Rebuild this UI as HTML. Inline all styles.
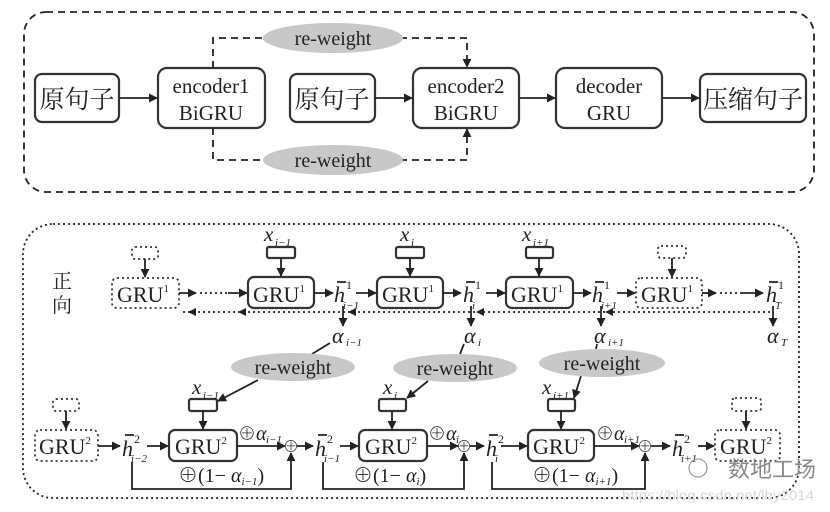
<!DOCTYPE html>
<html><head><meta charset="utf-8"><style>
body{margin:0;background:#fff}
svg{display:block}
text{font-family:"Liberation Serif","Noto Serif CJK SC",serif;fill:#222}
.b{fill:#fff;stroke:#333;stroke-width:2.2}
.d{fill:#fff;stroke:#333;stroke-width:1.8;stroke-dasharray:2 3}
.l{stroke:#222;stroke-width:1.8;fill:none}
.dl{stroke:#222;stroke-width:1.8;fill:none;stroke-dasharray:2 3}
.dash{stroke:#222;stroke-width:1.8;fill:none;stroke-dasharray:7 5}
.s{font-size:11px;font-style:italic}
text.wm{font-family:"Liberation Sans",sans-serif;fill:#d8d8d8}
text.cn{font-family:"Noto Sans CJK SC",sans-serif;fill:#888}
</style></head><body>
<svg width="830" height="512" viewBox="0 0 830 512" xmlns="http://www.w3.org/2000/svg">
<defs><marker id="a" viewBox="0 0 10 10" refX="9" refY="5" markerWidth="5" markerHeight="5" orient="auto"><path d="M0,0L10,5L0,10z" fill="#222"/></marker></defs>
<rect x="24" y="12" width="790" height="180" rx="22" class="dash"/>
<rect x="35" y="74" width="84" height="48" rx="7" class="b"/>
<text x="77" y="108" font-size="25" text-anchor="middle">原句子</text>
<rect x="158" y="68" width="107" height="60" rx="9" class="b"/>
<text x="211" y="93" font-size="21" text-anchor="middle">encoder1</text>
<text x="211" y="120" font-size="21" text-anchor="middle">BiGRU</text>
<rect x="290" y="74" width="85" height="48" rx="7" class="b"/>
<text x="332" y="108" font-size="25" text-anchor="middle">原句子</text>
<rect x="413" y="68" width="106" height="60" rx="9" class="b"/>
<text x="466" y="93" font-size="21" text-anchor="middle">encoder2</text>
<text x="466" y="120" font-size="21" text-anchor="middle">BiGRU</text>
<rect x="556" y="68" width="106" height="60" rx="9" class="b"/>
<text x="609" y="93" font-size="21" text-anchor="middle">decoder</text>
<text x="609" y="120" font-size="21" text-anchor="middle">GRU</text>
<rect x="700" y="74" width="106" height="48" rx="7" class="b"/>
<text x="753" y="108" font-size="25" text-anchor="middle">压缩句子</text>
<line x1="119" y1="98" x2="157" y2="98" class="l" marker-end="url(#a)"/>
<line x1="375" y1="98" x2="412" y2="98" class="l" marker-end="url(#a)"/>
<line x1="519" y1="98" x2="555" y2="98" class="l" marker-end="url(#a)"/>
<line x1="662" y1="98" x2="699" y2="98" class="l" marker-end="url(#a)"/>
<path d="M213,68V38H265M400,38H467V67" class="dash" marker-end="url(#a)"/>
<path d="M213,128V160H265M400,160H467V129" class="dash" marker-end="url(#a)"/>
<ellipse cx="333" cy="38" rx="70" ry="15" fill="#c8c8c8"/>
<text x="333" y="45" font-size="20" text-anchor="middle">re-weight</text>
<ellipse cx="333" cy="160" rx="70" ry="15" fill="#c8c8c8"/>
<text x="333" y="167" font-size="20" text-anchor="middle">re-weight</text>
<rect x="23" y="224" width="776" height="274" rx="30" class="dl"/>
<text x="52" y="288" font-size="20">正</text>
<text x="52" y="312" font-size="20">向</text>
<g font-size="22">
<rect x="132" y="247" width="26" height="12" rx="3" class="d"/>
<line x1="145" y1="259" x2="145" y2="277" class="l" marker-end="url(#a)"/>
<rect x="112" y="278" width="67" height="30" rx="5" class="d"/>
<text x="117" y="302">GRU<tspan font-size="11" dy="-10">1</tspan></text>
<path d="M179,293H196" class="l" marker-end="url(#a)"/>
<path d="M200,293H228" class="dl"/>
<path d="M228,293H247" class="l" marker-end="url(#a)"/>
<rect x="248" y="277" width="66" height="31" rx="6" class="b"/>
<text x="253" y="302">GRU<tspan font-size="11" dy="-10">1</tspan></text>
<rect x="377" y="277" width="66" height="31" rx="6" class="b"/>
<text x="382" y="302">GRU<tspan font-size="11" dy="-10">1</tspan></text>
<rect x="506" y="277" width="67" height="31" rx="6" class="b"/>
<text x="511" y="302">GRU<tspan font-size="11" dy="-10">1</tspan></text>
<rect x="636" y="278" width="66" height="30" rx="5" class="d"/>
<text x="641" y="302">GRU<tspan font-size="11" dy="-10">1</tspan></text>
<rect x="658" y="246" width="28" height="12" rx="3" class="d"/>
<line x1="672" y1="258" x2="672" y2="277" class="l" marker-end="url(#a)"/>
<rect x="267" y="247" width="28" height="11" rx="2" class="b" stroke-width="1.8"/>
<line x1="281" y1="258" x2="281" y2="276" class="l" marker-end="url(#a)"/>
<text x="264" y="241" font-style="italic" font-size="21">x</text><text x="275" y="246" class="s">i−1</text>
<rect x="396" y="247" width="28" height="11" rx="2" class="b" stroke-width="1.8"/>
<line x1="410" y1="258" x2="410" y2="276" class="l" marker-end="url(#a)"/>
<text x="400" y="241" font-style="italic" font-size="21">x</text><text x="411" y="246" class="s">i</text>
<rect x="526" y="247" width="27" height="11" rx="2" class="b" stroke-width="1.8"/>
<line x1="539" y1="258" x2="539" y2="276" class="l" marker-end="url(#a)"/>
<text x="522" y="241" font-style="italic" font-size="21">x</text><text x="533" y="246" class="s">i+1</text>
<text x="334" y="302" font-style="italic">h</text><text x="346" y="289" font-size="12">1</text><text x="343" y="309" class="s">i−1</text>
<text x="463" y="302" font-style="italic">h</text><text x="475" y="289" font-size="12">1</text><text x="472" y="309" class="s">i</text>
<text x="592" y="302" font-style="italic">h</text><text x="604" y="289" font-size="12">1</text><text x="601" y="309" class="s">i+1</text>
<text x="766" y="302" font-style="italic">h</text><text x="778" y="289" font-size="12">1</text><text x="775" y="309" class="s">T</text>
<g class="l" stroke-width="1.2"><path d="M337,282h9M466,282h9M595,282h9M769,282h9"/></g>
<line x1="314" y1="293" x2="333" y2="293" class="l" marker-end="url(#a)"/>
<line x1="356" y1="293" x2="376" y2="293" class="l" marker-end="url(#a)"/>
<line x1="443" y1="293" x2="461" y2="293" class="l" marker-end="url(#a)"/>
<line x1="486" y1="293" x2="505" y2="293" class="l" marker-end="url(#a)"/>
<line x1="573" y1="293" x2="591" y2="293" class="l" marker-end="url(#a)"/>
<line x1="617" y1="293" x2="635" y2="293" class="l" marker-end="url(#a)"/>
<line x1="702" y1="293" x2="716" y2="293" class="l" marker-end="url(#a)"/>
<path d="M720,293H740" class="dl"/>
<line x1="740" y1="293" x2="763" y2="293" class="l" marker-end="url(#a)"/>
<path d="M770,312H182" class="dl"/>
<path d="M188,312l8,-4v8z M238,312l8,-4v8z M348,312l8,-4v8z M476,312l8,-4v8z M605,312l8,-4v8z" fill="#222"/>
<g class="l">
<line x1="343" y1="306" x2="343" y2="326" marker-end="url(#a)"/>
<line x1="471" y1="306" x2="471" y2="326" marker-end="url(#a)"/>
<line x1="601" y1="306" x2="601" y2="326" marker-end="url(#a)"/>
<line x1="773" y1="306" x2="773" y2="326" marker-end="url(#a)"/>
</g>
<text x="332" y="343" font-style="italic">α</text><text x="346" y="346" class="s">i−1</text>
<text x="464" y="343" font-style="italic">α</text><text x="478" y="346" class="s">i</text>
<text x="594" y="343" font-style="italic">α</text><text x="608" y="346" class="s">i+1</text>
<text x="767" y="343" font-style="italic">α</text><text x="781" y="346" class="s">T</text>
<g class="l">
<line x1="330" y1="343" x2="312" y2="354"/>
<line x1="464" y1="344" x2="460" y2="354"/>
<line x1="597" y1="344" x2="596" y2="349"/>
<line x1="258" y1="380" x2="218" y2="401" marker-end="url(#a)"/>
<line x1="428" y1="381" x2="407" y2="398" marker-end="url(#a)"/>
<line x1="581" y1="376" x2="574" y2="398" marker-end="url(#a)"/>
</g>
<ellipse cx="293" cy="367" rx="62" ry="14" fill="#c8c8c8"/>
<text x="293" y="374" font-size="20" text-anchor="middle">re-weight</text>
<ellipse cx="455" cy="368" rx="62" ry="14" fill="#c8c8c8"/>
<text x="455" y="375" font-size="20" text-anchor="middle">re-weight</text>
<ellipse cx="602" cy="363" rx="63" ry="14" fill="#c8c8c8"/>
<text x="602" y="370" font-size="20" text-anchor="middle">re-weight</text>
<rect x="53" y="399" width="26" height="12" rx="3" class="d"/>
<line x1="66" y1="411" x2="66" y2="429" class="l" marker-end="url(#a)"/>
<rect x="35" y="430" width="63" height="31" rx="5" class="d"/>
<text x="39" y="454">GRU<tspan font-size="11" dy="-10">2</tspan></text>
<rect x="732" y="398" width="29" height="13" rx="3" class="d"/>
<line x1="746" y1="411" x2="746" y2="429" class="l" marker-end="url(#a)"/>
<rect x="715" y="430" width="65" height="31" rx="5" class="d"/>
<text x="720" y="454">GRU<tspan font-size="11" dy="-10">2</tspan></text>
<rect x="169" y="430" width="68" height="31" rx="6" class="b"/>
<text x="175" y="454">GRU<tspan font-size="11" dy="-10">2</tspan></text>
<rect x="359" y="430" width="68" height="31" rx="6" class="b"/>
<text x="365" y="454">GRU<tspan font-size="11" dy="-10">2</tspan></text>
<rect x="528" y="430" width="66" height="31" rx="6" class="b"/>
<text x="533" y="454">GRU<tspan font-size="11" dy="-10">2</tspan></text>
<rect x="189" y="399" width="28" height="12" rx="2" class="b" stroke-width="1.8"/>
<line x1="203" y1="411" x2="203" y2="429" class="l" marker-end="url(#a)"/>
<text x="192" y="394" font-style="italic" font-size="21">x</text><text x="203" y="399" class="s">i−1</text>
<rect x="379" y="399" width="27" height="12" rx="2" class="b" stroke-width="1.8"/>
<line x1="392" y1="411" x2="392" y2="429" class="l" marker-end="url(#a)"/>
<text x="383" y="394" font-style="italic" font-size="21">x</text><text x="394" y="399" class="s">i</text>
<rect x="548" y="399" width="27" height="12" rx="2" class="b" stroke-width="1.8"/>
<line x1="561" y1="411" x2="561" y2="429" class="l" marker-end="url(#a)"/>
<text x="542" y="394" font-style="italic" font-size="21">x</text><text x="553" y="399" class="s">i+1</text>
<text x="122" y="456" font-style="italic">h</text><text x="134" y="443" font-size="12">2</text><text x="131" y="462" class="s">i−2</text>
<text x="315" y="456" font-style="italic">h</text><text x="327" y="443" font-size="12">2</text><text x="324" y="462" class="s">i−1</text>
<text x="486" y="456" font-style="italic">h</text><text x="498" y="443" font-size="12">2</text><text x="495" y="462" class="s">i</text>
<text x="672" y="456" font-style="italic">h</text><text x="684" y="443" font-size="12">2</text><text x="681" y="462" class="s">i+1</text>
<g class="l" stroke-width="1.2"><path d="M125,435h9M318,435h9M489,435h9M675,435h9"/></g>
<g class="l">
<line x1="98" y1="446" x2="120" y2="446" marker-end="url(#a)"/>
<line x1="147" y1="446" x2="168" y2="446" marker-end="url(#a)"/>
<line x1="237" y1="446" x2="285" y2="446" marker-end="url(#a)"/>
<line x1="297" y1="446" x2="313" y2="446" marker-end="url(#a)"/>
<line x1="340" y1="446" x2="358" y2="446" marker-end="url(#a)"/>
<line x1="427" y1="446" x2="458" y2="446" marker-end="url(#a)"/>
<line x1="470" y1="446" x2="484" y2="446" marker-end="url(#a)"/>
<line x1="501" y1="446" x2="527" y2="446" marker-end="url(#a)"/>
<line x1="594" y1="446" x2="639" y2="446" marker-end="url(#a)"/>
<line x1="651" y1="446" x2="670" y2="446" marker-end="url(#a)"/>
<line x1="698" y1="446" x2="714" y2="446" marker-end="url(#a)"/>
<path d="M132,462V489H291V453" marker-end="url(#a)"/>
<path d="M323,462V489H464V453" marker-end="url(#a)"/>
<path d="M492,462V489H645V453" marker-end="url(#a)"/>
</g>
<text x="291" y="452" font-size="16" text-anchor="middle">⊕</text>
<text x="464" y="452" font-size="16" text-anchor="middle">⊕</text>
<text x="645" y="452" font-size="16" text-anchor="middle">⊕</text>
<text x="238" y="440" font-size="18">⊕<tspan font-style="italic" font-size="20">α</tspan></text><text x="266" y="443" class="s">i−1</text>
<text x="428" y="440" font-size="18">⊕<tspan font-style="italic" font-size="20">α</tspan></text><text x="456" y="443" class="s">i</text>
<text x="596" y="440" font-size="18">⊕<tspan font-style="italic" font-size="20">α</tspan></text><text x="624" y="443" class="s">i+1</text>
<text x="178" y="482" font-size="20">⊕(1− <tspan font-style="italic">α</tspan><tspan font-size="11" font-style="italic" dy="3">i−1</tspan><tspan dy="-3">)</tspan></text>
<text x="353" y="482" font-size="20">⊕(1− <tspan font-style="italic">α</tspan><tspan font-size="11" font-style="italic" dy="3">i</tspan><tspan dy="-3">)</tspan></text>
<text x="532" y="482" font-size="20">⊕(1− <tspan font-style="italic">α</tspan><tspan font-size="11" font-style="italic" dy="3">i+1</tspan><tspan dy="-3">)</tspan></text>
</g>
<text x="728" y="477" font-size="22" class="cn">数地工场</text>
<text x="622" y="500" font-size="14" class="wm" textLength="192" lengthAdjust="spacingAndGlyphs">https://blog.csdn.net/lby2014</text>
<circle cx="698" cy="468" r="9" fill="none" stroke="#999" stroke-width="1.2"/>
</svg>
</body></html>
